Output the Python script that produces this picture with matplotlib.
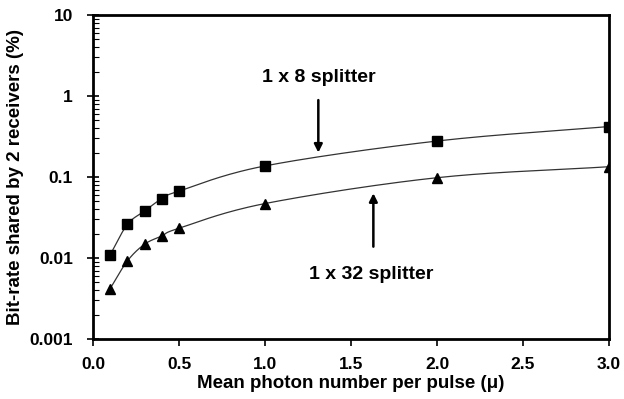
import numpy as np
import matplotlib
matplotlib.use("Agg")
import matplotlib.pyplot as plt
from matplotlib.ticker import FixedLocator, FixedFormatter, LogLocator, NullFormatter

plt.rcParams['font.family'] = ['Liberation Sans', 'DejaVu Sans']
plt.rcParams['font.weight'] = 'bold'

mu = [0.1, 0.2, 0.3, 0.4, 0.5, 1.0, 2.0, 3.0]
rate_1x8 = [0.011, 0.026, 0.038, 0.054, 0.067, 0.137, 0.278, 0.42]
rate_1x32 = [0.0042, 0.0092, 0.0148, 0.0187, 0.0233, 0.047, 0.098, 0.134]

x_ticks = [0.0, 0.5, 1.0, 1.5, 2.0, 2.5, 3.0]
x_tick_labels = ["0.0", "0.5", "1.0", "1.5", "2.0", "2.5", "3.0"]
y_ticks = [0.001, 0.01, 0.1, 1, 10]
y_tick_labels = ["0.001", "0.01", "0.1", "1", "10"]


def smooth(x, y, n=30):
    """Catmull-Rom curve through the points, in (x, log y) space."""
    x = np.asarray(x, float)
    ly = np.log10(np.asarray(y, float))
    P = np.column_stack([x, ly])
    P = np.vstack([2 * P[0] - P[1], P, 2 * P[-1] - P[-2]])
    out = []
    t = np.linspace(0, 1, n)[:, None]
    for i in range(1, len(P) - 2):
        p0, p1, p2, p3 = P[i - 1], P[i], P[i + 1], P[i + 2]
        seg = 0.5 * ((2 * p1) + (-p0 + p2) * t + (2 * p0 - 5 * p1 + 4 * p2 - p3) * t ** 2
                     + (-p0 + 3 * p1 - 3 * p2 + p3) * t ** 3)
        out.append(seg)
    c = np.vstack(out)
    return c[:, 0], 10 ** c[:, 1]


fig = plt.figure(figsize=(6.24, 3.99), dpi=100)
ax = fig.add_axes([93 / 624, 1 - 339 / 399, 516 / 624, 324 / 399])

for ys, mk, ms in [(rate_1x8, 's', 7), (rate_1x32, '^', 7.5)]:
    sx, sy = smooth(mu, ys)
    ax.plot(sx, sy, color='#333333', lw=0.9, zorder=2)
    ax.plot(mu, ys, linestyle='none', marker=mk, ms=ms, color='black', zorder=3)

ax.set_yscale('log')
ax.set_xlim(0, 3)
ax.set_ylim(0.001, 10)

ax.xaxis.set_major_locator(FixedLocator(x_ticks))
ax.xaxis.set_major_formatter(FixedFormatter(x_tick_labels))
ax.yaxis.set_major_locator(FixedLocator(y_ticks))
ax.yaxis.set_major_formatter(FixedFormatter(y_tick_labels))
ax.yaxis.set_minor_locator(LogLocator(base=10, subs=np.arange(2, 10)))
ax.yaxis.set_minor_formatter(NullFormatter())

ax.tick_params(axis='x', which='major', direction='out', length=5, width=1.2,
               labelsize=12.5, pad=8)
ax.tick_params(axis='y', which='major', direction='inout', length=9, width=1.2,
               labelsize=12.5, pad=10)
ax.tick_params(axis='y', which='minor', direction='in', length=4, width=0.8)

for s in ax.spines.values():
    s.set_linewidth(2)

ax.set_xlabel("Mean photon number per pulse (\u03bc)", fontsize=13.5, fontweight='bold', labelpad=2)
ax.set_ylabel("Bit-rate shared by 2 receivers (%)", fontsize=13.5, fontweight='bold', labelpad=4)

ax.annotate("", xy=(1.31, 0.2), xytext=(1.31, 0.89),
            arrowprops=dict(arrowstyle='-|>', color='black', lw=1.8, mutation_scale=12,
                            shrinkA=0, shrinkB=0))
ax.text(1.31, 1.7, "1 x 8 splitter", ha='center', va='center', fontsize=14, fontweight='bold')

ax.annotate("", xy=(1.63, 0.063), xytext=(1.63, 0.0138),
            arrowprops=dict(arrowstyle='-|>', color='black', lw=1.8, mutation_scale=12,
                            shrinkA=0, shrinkB=0))
ax.text(1.62, 0.0062, "1 x 32 splitter", ha='center', va='center', fontsize=14, fontweight='bold')

fig.savefig("out.png", dpi=100)
